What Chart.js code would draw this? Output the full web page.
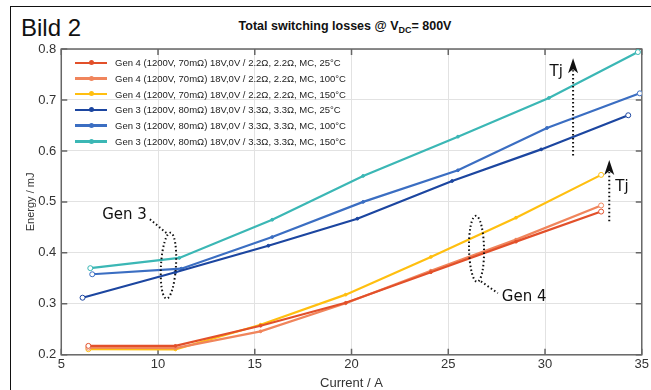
<!DOCTYPE html>
<html>
<head>
<meta charset="utf-8">
<script src="https://cdn.jsdelivr.net/npm/chart.js@4"></script>
<style>
  html, body { margin: 0; padding: 0; background: #fff; }
  #wrap { position: relative; width: 651px; height: 390px; overflow: hidden; }
  #frame { position: absolute; left: 10px; top: 6px; width: 700px; height: 450px;
           border-left: 1.5px solid #111; border-top: 1.5px solid #111; }
  #bild { position: absolute; left: 21px; top: 14px; font-family: "Liberation Sans Narrow", "Liberation Sans", sans-serif;
          font-size: 24px; color: #111; }
  #title { position: absolute; left: 0; width: 690px; top: 19px; text-align: center;
           font-family: "Liberation Sans", Arial, sans-serif; font-weight: bold; font-size: 12.5px; color: #111; }
  #title sub { font-size: 9px; vertical-align: -3px; }
  #legend { position: absolute; left: 75px; top: 55px; font-family: "Liberation Sans", Arial, sans-serif;
            font-size: 9.5px; color: #222; }
  .row { height: 15.7px; display: flex; align-items: center; }
  .sw { position: relative; width: 32px; height: 2.5px; margin-right: 8px; }
  .sw i { position: absolute; left: 14px; top: -1.5px; width: 5px; height: 5px; border-radius: 50%; }
  canvas { position: absolute; left: 0; top: 0; }
</style>
</head>
<body>
<div id="wrap">
  <div id="frame"></div>
  <div id="bild">Bild 2</div>
  <div id="title">Total switching losses @ V<sub>DC</sub>= 800V</div>
  <canvas id="c" width="651" height="390"></canvas>
  <div id="legend"></div>
</div>
<script>
// series (x = current / A, y = energy / mJ)
const seriesLabels = [
  'Gen 4 (1200V, 70mΩ) 18V,0V / 2.2Ω, 2.2Ω, MC, 25°C',
  'Gen 4 (1200V, 70mΩ) 18V,0V / 2.2Ω, 2.2Ω, MC, 100°C',
  'Gen 4 (1200V, 70mΩ) 18V,0V / 2.2Ω, 2.2Ω, MC, 150°C',
  'Gen 3 (1200V, 80mΩ) 18V,0V / 3.3Ω, 3.3Ω, MC, 25°C',
  'Gen 3 (1200V, 80mΩ) 18V,0V / 3.3Ω, 3.3Ω, MC, 100°C',
  'Gen 3 (1200V, 80mΩ) 18V,0V / 3.3Ω, 3.3Ω, MC, 150°C'
];
const gen4Current = [6.4, 10.9, 15.3, 19.7, 24.1, 28.5, 32.9];
const gen4_25 = [0.2175, 0.2175, 0.257, 0.302, 0.362, 0.422, 0.481];
const gen4_100 = [0.214, 0.213, 0.246, 0.301, 0.365, 0.426, 0.493];
const gen4_150 = [0.211, 0.2105, 0.259, 0.318, 0.392, 0.469, 0.553];
const gen3Current25 = [6.1, 10.9, 15.7, 20.3, 25.2, 29.8, 34.3];
const gen3_25 = [0.312, 0.362, 0.414, 0.467, 0.541, 0.603, 0.670];
const gen3Current100 = [6.6, 11.2, 15.9, 20.6, 25.5, 30.1, 34.9];
const gen3_100 = [0.358, 0.369, 0.431, 0.500, 0.562, 0.645, 0.713];
const gen3Current150 = [6.5, 11.1, 15.9, 20.6, 25.5, 30.2, 34.8];
const gen3_150 = [0.370, 0.390, 0.465, 0.551, 0.628, 0.704, 0.794];
const xTicks = [5, 10, 15, 20, 25, 30, 35];
const yTicks = [0.2, 0.3, 0.4, 0.5, 0.6, 0.7, 0.8];

const colors = ['#e2502a', '#f0855c', '#ffbf10', '#1c46a0', '#3b6ec2', '#3bb7b5'];
const xs = [gen4Current, gen4Current, gen4Current, gen3Current25, gen3Current100, gen3Current150];
const ys = [gen4_25, gen4_100, gen4_150, gen3_25, gen3_100, gen3_150];

const datasets = seriesLabels.map((label, k) => ({
  label,
  data: xs[k].map((x, i) => ({ x, y: ys[k][i] })),
  borderColor: colors[k],
  borderWidth: 2.2,
  pointRadius: ctx => (ctx.dataIndex === 0 || ctx.dataIndex === xs[k].length - 1) ? 2.5 : 1.4,
  pointBackgroundColor: ctx => (ctx.dataIndex === 0 || ctx.dataIndex === xs[k].length - 1) ? '#fff' : colors[k],
  pointBorderColor: colors[k],
  pointBorderWidth: 1,
  tension: 0
}));

// html legend
const leg = document.getElementById('legend');
seriesLabels.forEach((label, k) => {
  const row = document.createElement('div');
  row.className = 'row';
  row.innerHTML = '<div class="sw" style="background:' + colors[k] + '"><i style="background:' + colors[k] + '"></i></div><span>' + label + '</span>';
  leg.appendChild(row);
});

// box + inward ticks
const boxPlugin = {
  id: 'box',
  beforeDatasetsDraw(chart) {
    const { ctx, chartArea: a, scales } = chart;
    ctx.save();
    ctx.strokeStyle = '#666';
    ctx.lineWidth = 1.5;
    ctx.strokeRect(a.left, a.top, a.right - a.left, a.bottom - a.top);
    ctx.beginPath();
    xTicks.forEach(v => {
      const px = scales.x.getPixelForValue(v);
      ctx.moveTo(px, a.bottom); ctx.lineTo(px, a.bottom - 6);
      ctx.moveTo(px, a.top); ctx.lineTo(px, a.top + 6);
    });
    yTicks.forEach(v => {
      const py = scales.y.getPixelForValue(v);
      ctx.moveTo(a.left, py); ctx.lineTo(a.left + 6, py);
      ctx.moveTo(a.right, py); ctx.lineTo(a.right - 6, py);
    });
    ctx.stroke();
    ctx.restore();
  }
};

// annotations: Gen 3 / Gen 4 ellipses and Tj arrows
const notes = {
  gen3Text: [8.27, 0.474], gen3Ellipse: [10.54, 0.375], gen3Lead: [[9.58, 0.466], [10.43, 0.439]],
  gen4Text: [28.92, 0.3125], gen4Ellipse: [26.46, 0.408], gen4Lead: [[26.69, 0.344], [27.56, 0.321]],
  tj1: [31.45, 0.591, 0.782], tj1Text: [30.58, 0.755],
  tj2: [33.32, 0.462, 0.582], tj2Text: [33.98, 0.530]
};
const notePlugin = {
  id: 'notes',
  afterDatasetsDraw(chart) {
    const { ctx, scales } = chart;
    const X = v => scales.x.getPixelForValue(v);
    const Y = v => scales.y.getPixelForValue(v);
    ctx.save();
    ctx.strokeStyle = '#111';
    ctx.fillStyle = '#111';
    ctx.lineWidth = 2;
    ctx.setLineDash([1.5, 2.5]);
    ctx.lineCap = 'butt';
    [[notes.gen3Ellipse, 0.06], [notes.gen4Ellipse, -0.02]].forEach(([c, rot]) => {
      ctx.beginPath();
      ctx.ellipse(X(c[0]), Y(c[1]), 7.5, 33, rot, 0, Math.PI * 2);
      ctx.stroke();
    });
    [notes.gen3Lead, notes.gen4Lead].forEach(l => {
      ctx.beginPath();
      ctx.moveTo(X(l[0][0]), Y(l[0][1]));
      ctx.lineTo(X(l[1][0]), Y(l[1][1]));
      ctx.stroke();
    });
    [notes.tj1, notes.tj2].forEach(t => {
      ctx.beginPath();
      ctx.moveTo(X(t[0]), Y(t[1]));
      ctx.lineTo(X(t[0]), Y(t[2]) + 12);
      ctx.stroke();
      ctx.setLineDash([]);
      ctx.beginPath();
      ctx.moveTo(X(t[0]), Y(t[2]));
      ctx.lineTo(X(t[0]) - 5, Y(t[2]) + 15);
      ctx.lineTo(X(t[0]), Y(t[2]) + 11);
      ctx.lineTo(X(t[0]) + 5, Y(t[2]) + 15);
      ctx.closePath();
      ctx.fill();
      ctx.setLineDash([1.5, 2.5]);
    });
    ctx.setLineDash([]);
    ctx.textAlign = 'center';
    ctx.textBaseline = 'middle';
    ctx.font = '15px "DejaVu Sans", sans-serif';
    ctx.fillText('Gen 3', X(notes.gen3Text[0]), Y(notes.gen3Text[1]));
    ctx.fillText('Gen 4', X(notes.gen4Text[0]), Y(notes.gen4Text[1]));
    ctx.fillText('Tj', X(notes.tj1Text[0]), Y(notes.tj1Text[1]));
    ctx.fillText('Tj', X(notes.tj2Text[0]), Y(notes.tj2Text[1]));
    ctx.restore();
  }
};

const tickFont = { family: '"Liberation Sans", Arial, sans-serif', size: 13 };
new Chart(document.getElementById('c'), {
  type: 'line',
  data: { datasets },
  options: {
    responsive: false,
    animation: false,
    layout: { padding: { left: 24, top: 49, right: 4, bottom: -1 } },
    plugins: { legend: { display: false }, tooltip: { enabled: false } },
    scales: {
      x: {
        type: 'linear', min: 5, max: 35,
        afterBuildTicks: s => { s.ticks = xTicks.map(v => ({ value: v })); },
        ticks: { font: tickFont, color: '#333', padding: 2, callback: v => v },
        grid: { color: '#e2e2e2', drawTicks: false },
        border: { display: false },
        title: { display: true, text: 'Current / A', font: { family: '"Liberation Sans", Arial, sans-serif', size: 13 }, color: '#333', padding: { top: 1, bottom: 0 } }
      },
      y: {
        type: 'linear', min: 0.2, max: 0.8,
        afterBuildTicks: s => { s.ticks = yTicks.map(v => ({ value: v })); },
        ticks: { font: tickFont, color: '#333', padding: 5, callback: v => v.toFixed(1) },
        grid: { color: '#e2e2e2', drawTicks: false },
        border: { display: false },
        title: { display: true, text: 'Energy / mJ', font: { family: '"Liberation Sans", Arial, sans-serif', size: 11 }, color: '#333', padding: { top: 0, bottom: -4 } }
      }
    }
  },
  plugins: [boxPlugin, notePlugin]
});
</script>
</body>
</html>
